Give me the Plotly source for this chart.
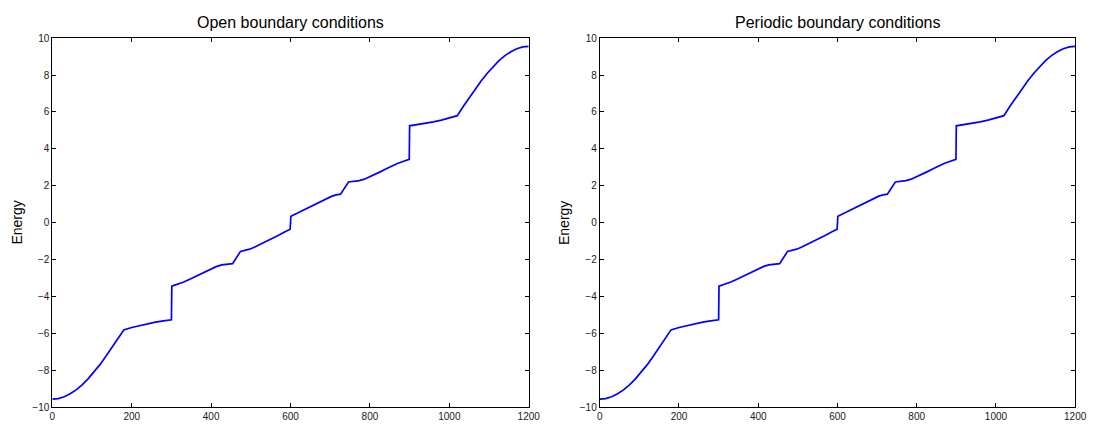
import plotly.graph_objects as go

# ---- data ----
level_index = [0, 15, 30, 45, 60, 75, 90, 105, 120, 135, 150, 165, 180,
               200, 220, 240, 260, 280, 300,
               301, 315, 331, 345, 360, 373, 388, 401, 414, 427, 440, 454,
               474, 485, 497, 510, 525, 540, 555, 570, 585, 599,
               601, 615, 630, 645, 660, 675, 690, 703, 715, 726,
               746, 760, 773, 786, 799, 812, 827, 840, 855, 869, 885, 899,
               900, 920, 940, 960, 980, 1000, 1020,
               1035, 1050, 1065, 1080, 1095, 1110, 1125, 1140, 1155, 1170, 1185, 1200]

energy_open = [-9.55, -9.52, -9.42, -9.26, -9.05, -8.78, -8.45, -8.08, -7.68, -7.23, -6.77, -6.29, -5.80,
               -5.67, -5.56, -5.46, -5.38, -5.31, -5.25,
               -3.43, -3.33, -3.21, -3.07, -2.91, -2.77, -2.61, -2.48, -2.36, -2.28, -2.23, -2.21,
               -1.55, -1.51, -1.43, -1.31, -1.16, -0.99, -0.83, -0.67, -0.50, -0.35,
               0.35, 0.50, 0.67, 0.83, 0.99, 1.16, 1.31, 1.43, 1.51, 1.55,
               2.21, 2.23, 2.28, 2.36, 2.48, 2.61, 2.77, 2.91, 3.07, 3.21, 3.33, 3.43,
               5.25, 5.31, 5.38, 5.46, 5.56, 5.67, 5.80,
               6.29, 6.77, 7.23, 7.68, 8.08, 8.45, 8.78, 9.05, 9.26, 9.42, 9.52, 9.55]

energy_periodic = list(energy_open)

panel_titles = ["Open boundary conditions", "Periodic boundary conditions"]
x_ticks = [0, 200, 400, 600, 800, 1000, 1200]
y_ticks = [-10, -8, -6, -4, -2, 0, 2, 4, 6, 8, 10]

# ---- layout geometry ----
W, H = 1101, 430
left_dom = [50 / W, 533 / W]
right_dom = [605 / W, 1087 / W]
y_dom = [(H - 413) / H, (H - 33) / H]

fig = go.Figure()
fig.add_trace(go.Scatter(x=level_index, y=energy_open, mode="lines",
                         line=dict(color="#0000ff", width=1.7),
                         xaxis="x", yaxis="y", showlegend=False))
fig.add_trace(go.Scatter(x=level_index, y=energy_periodic, mode="lines",
                         line=dict(color="#0000ff", width=1.7),
                         xaxis="x2", yaxis="y2", showlegend=False))

tickfont = dict(family="Liberation Sans, Arial, sans-serif", size=10, color="#1a1a1a")
axis_common = dict(showline=True, linecolor="black", linewidth=1, mirror="ticks",
                   ticks="inside", ticklen=4, tickwidth=1, tickcolor="black",
                   showgrid=False, zeroline=False, tickfont=tickfont)

fig.update_layout(
    width=W, height=H,
    margin=dict(l=0, r=0, t=0, b=0),
    paper_bgcolor="white", plot_bgcolor="white",
    hovermode=False,
    xaxis=dict(domain=left_dom, range=[0, 1200], tickvals=x_ticks, anchor="y", **axis_common),
    yaxis=dict(domain=y_dom, range=[-10, 10], tickvals=y_ticks, anchor="x", **axis_common),
    xaxis2=dict(domain=right_dom, range=[0, 1200], tickvals=x_ticks, anchor="y2", **axis_common),
    yaxis2=dict(domain=y_dom, range=[-10, 10], tickvals=y_ticks, anchor="x2", **axis_common),
)

title_font = dict(family="Liberation Sans, Arial, sans-serif", size=16, color="black")
label_font = dict(family="Liberation Sans, Arial, sans-serif", size=14, color="black")
for dom, title in zip([left_dom, right_dom], panel_titles):
    fig.add_annotation(x=(dom[0] + dom[1]) / 2, y=(H - 17) / H, xref="paper", yref="paper",
                       text=title, showarrow=False, font=title_font,
                       xanchor="center", yanchor="middle")
    fig.add_annotation(x=dom[0] - 36 / W, y=(y_dom[0] + y_dom[1]) / 2, xref="paper", yref="paper",
                       text="Energy", showarrow=False, font=label_font, textangle=-90,
                       xanchor="center", yanchor="middle")

fig.write_html("out.html", config={"displayModeBar": False},
               post_script="document.body.style.margin='0';document.body.style.overflow='hidden';")
